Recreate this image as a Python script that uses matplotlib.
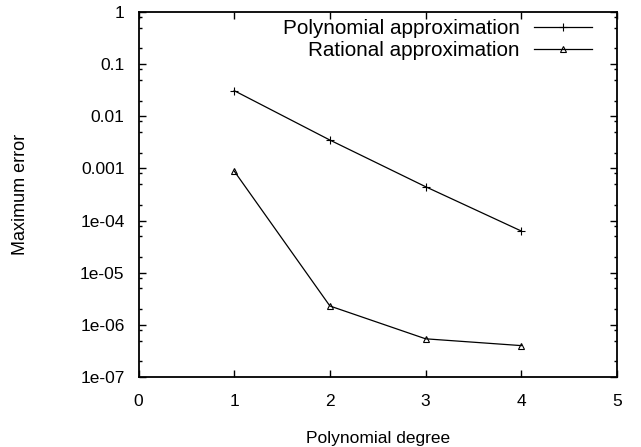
import matplotlib
matplotlib.use("Agg")
import matplotlib.pyplot as plt
from matplotlib.ticker import FixedLocator, FixedFormatter
import numpy as np

plt.rcParams['font.family'] = ['Liberation Sans', 'DejaVu Sans']

degrees = [1, 2, 3, 4]
poly_err = [0.031, 0.0035, 4.46e-4, 6.3e-5]
rat_err = [8.9e-4, 2.3e-6, 5.4e-7, 4.0e-7]
series_labels = ["Polynomial approximation", "Rational approximation"]

x_ticks = [0, 1, 2, 3, 4, 5]
y_ticks = [1e-7, 1e-6, 1e-5, 1e-4, 1e-3, 1e-2, 1e-1, 1]
y_tick_labels = ["1e-07", "1e-06", "1e-05", "1e-04", "0.001", "0.01", "0.1", "1"]
x_label = "Polynomial degree"
y_label = "Maximum error"

fig = plt.figure(figsize=(6.41, 4.47), dpi=100)
ax = fig.add_axes([138.5/641, 1-377/447, (617-138.5)/641, (377-12)/447])

ax.plot(degrees, poly_err, color='black', lw=0.9, marker='+', ms=5.5, mew=0.8,
        label=series_labels[0])
ax.plot(degrees, rat_err, color='black', lw=0.9, marker='^', ms=4.5, mew=0.8,
        mfc='none', label=series_labels[1])

ax.set_yscale('log')
ax.set_xlim(0, 5)
ax.set_ylim(1e-7, 1)
ax.xaxis.set_major_locator(FixedLocator(x_ticks))
ax.yaxis.set_major_locator(FixedLocator(y_ticks))
ax.yaxis.set_major_formatter(FixedFormatter(y_tick_labels))
minors = [m * 10.0**k for k in range(-7, 0) for m in (2, 5, 8)]
ax.yaxis.set_minor_locator(FixedLocator(minors))
ax.yaxis.set_minor_formatter(FixedFormatter([""] * len(minors)))
ax.xaxis.set_minor_locator(FixedLocator([]))

ax.tick_params(which='both', direction='in', top=True, right=True, colors='black',
               labelsize=12.5)
ax.tick_params(which='major', length=5, width=1.0, pad=10)
ax.tick_params(axis='x', which='major', pad=12)
ax.tick_params(which='minor', length=2.5, width=1.0)
for s in ax.spines.values():
    s.set_linewidth(1.3)

ax.set_xlabel(x_label, fontsize=12.5, labelpad=16)
ax.set_ylabel(y_label, fontsize=13, labelpad=37)

leg = ax.legend(loc='upper right', bbox_to_anchor=(0.955, 0.989), markerfirst=False,
                frameon=False, fontsize=14.9, handlelength=2.8, handletextpad=0.72,
                borderaxespad=0.0, labelspacing=0.15, borderpad=0.15)
for col in leg._legend_handle_box.get_children():
    col.align = "right"

fig.savefig("out.png", dpi=100)
